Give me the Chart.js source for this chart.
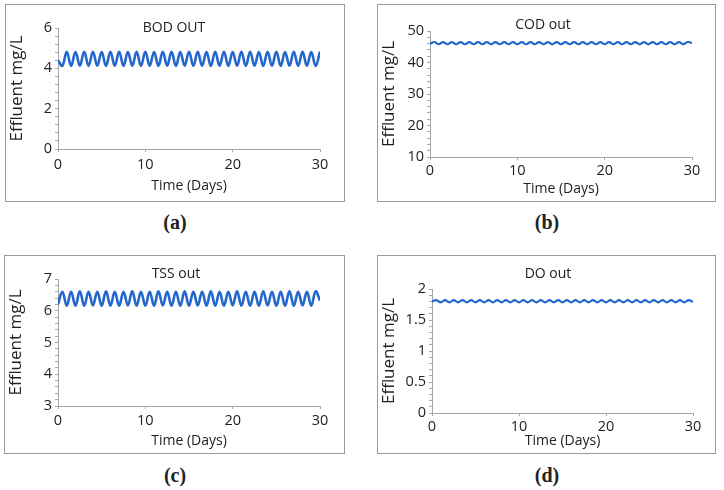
<!DOCTYPE html>
<html>
<head>
<meta charset="utf-8">
<script src="https://cdn.jsdelivr.net/npm/chart.js@4"></script>
<style>
  body { margin: 0; background: #fff; width: 724px; height: 490px; position: relative; overflow: hidden; }
  .panel { position: absolute; border: 1px solid #9a9a9a; box-sizing: border-box; background: #fff; }
  .panel canvas { position: absolute; left: 0; top: 0; }
  .tag { position: absolute; font: bold 20px "Liberation Serif", serif; color: #222; transform: translate(-50%, -50%); }
</style>
</head>
<body>
<div class="panel" style="left:5px;top:4px;width:340px;height:198px"><canvas id="cA"></canvas></div>
<div class="panel" style="left:377px;top:4px;width:339px;height:198px"><canvas id="cB"></canvas></div>
<div class="panel" style="left:4px;top:255px;width:341px;height:199px"><canvas id="cC"></canvas></div>
<div class="panel" style="left:377px;top:255px;width:339px;height:199px"><canvas id="cD"></canvas></div>
<div class="tag" style="left:175px;top:222px">(a)</div>
<div class="tag" style="left:547px;top:222px">(b)</div>
<div class="tag" style="left:175px;top:475px">(c)</div>
<div class="tag" style="left:547px;top:475px">(d)</div>
<script>
// time in days, half-day steps
const days = [0, 0.5, 1, 1.5, 2, 2.5, 3, 3.5, 4, 4.5, 5, 5.5, 6, 6.5, 7, 7.5, 8, 8.5, 9, 9.5,
  10, 10.5, 11, 11.5, 12, 12.5, 13, 13.5, 14, 14.5, 15, 15.5, 16, 16.5, 17, 17.5, 18, 18.5, 19, 19.5,
  20, 20.5, 21, 21.5, 22, 22.5, 23, 23.5, 24, 24.5, 25, 25.5, 26, 26.5, 27, 27.5, 28, 28.5, 29, 29.5, 30];

const bodOut = [4.40, 4.13, 4.82, 4.12, 4.81, 4.13, 4.82, 4.12, 4.82, 4.13, 4.81, 4.12, 4.82, 4.13, 4.82, 4.12,
  4.81, 4.13, 4.82, 4.12, 4.82, 4.13, 4.81, 4.12, 4.82, 4.13, 4.82, 4.12, 4.81, 4.13, 4.82, 4.12,
  4.82, 4.13, 4.81, 4.12, 4.82, 4.13, 4.82, 4.12, 4.81, 4.13, 4.82, 4.12, 4.82, 4.13, 4.81, 4.12,
  4.82, 4.13, 4.82, 4.12, 4.81, 4.13, 4.82, 4.12, 4.82, 4.13, 4.81, 4.12, 4.83];

const codOut = [45.9, 46.5, 45.8, 46.5, 45.8, 46.5, 45.8, 46.5, 45.8, 46.5, 45.8, 46.5, 45.8, 46.5, 45.8, 46.5,
  45.8, 46.5, 45.8, 46.5, 45.8, 46.5, 45.8, 46.5, 45.8, 46.5, 45.8, 46.5, 45.8, 46.5, 45.8, 46.5,
  45.8, 46.5, 45.8, 46.5, 45.8, 46.5, 45.8, 46.5, 45.8, 46.5, 45.8, 46.5, 45.8, 46.5, 45.8, 46.5,
  45.8, 46.5, 45.8, 46.5, 45.8, 46.5, 45.8, 46.5, 45.8, 46.5, 45.8, 46.5, 46.2];

const tssOut = [6.20, 6.60, 6.16, 6.60, 6.16, 6.61, 6.16, 6.60, 6.17, 6.60, 6.16, 6.61, 6.16, 6.60, 6.16, 6.60,
  6.17, 6.61, 6.16, 6.60, 6.16, 6.60, 6.16, 6.61, 6.17, 6.60, 6.16, 6.60, 6.16, 6.61, 6.16, 6.60,
  6.17, 6.60, 6.16, 6.61, 6.16, 6.60, 6.16, 6.60, 6.17, 6.61, 6.16, 6.60, 6.16, 6.60, 6.16, 6.61,
  6.17, 6.60, 6.16, 6.60, 6.16, 6.61, 6.16, 6.60, 6.17, 6.60, 6.16, 6.61, 6.32];

const doOut = [1.80, 1.82, 1.785, 1.82, 1.785, 1.82, 1.785, 1.82, 1.785, 1.82, 1.785, 1.82, 1.785, 1.82, 1.785, 1.82,
  1.785, 1.82, 1.785, 1.82, 1.785, 1.82, 1.785, 1.82, 1.785, 1.82, 1.785, 1.82, 1.785, 1.82, 1.785, 1.82,
  1.785, 1.82, 1.785, 1.82, 1.785, 1.82, 1.785, 1.82, 1.785, 1.82, 1.785, 1.82, 1.785, 1.82, 1.785, 1.82,
  1.785, 1.82, 1.785, 1.82, 1.785, 1.82, 1.785, 1.82, 1.785, 1.82, 1.785, 1.82, 1.79];

const xTicks = [0, 10, 20, 30];

const FONT = '"Open Sans", sans-serif';
const AXIS = '#a8a8a8';
const INK = '#222';

const panelTitle = {
  id: 'panelTitle',
  afterDraw(chart, args, opts) {
    const c = chart.ctx;
    c.save();
    c.font = '14px ' + FONT;
    c.fillStyle = INK;
    c.textAlign = 'center';
    c.textBaseline = 'middle';
    c.fillText(opts.text, opts.x, opts.y);
    c.restore();
  }
};

function makeChart(id, values, o) {
  const el = document.getElementById(id);
  const box = el.parentNode;
  const W = box.clientWidth, H = box.clientHeight;
  el.width = W; el.height = H;
  el.style.width = W + 'px'; el.style.height = H + 'px';

  return new Chart(el, {
    type: 'line',
    data: {
      datasets: [{
        data: days.map((d, i) => ({ x: d, y: values[i] })),
        borderColor: '#2468cc',
        borderWidth: o.lw,
        pointRadius: 0,
        tension: 0.4,
        fill: false
      }]
    },
    options: {
      responsive: false,
      animation: false,
      devicePixelRatio: 1,
      layout: { padding: { top: o.top, right: W - o.right, left: 0, bottom: 0 } },
      plugins: {
        legend: { display: false },
        tooltip: { enabled: false },
        panelTitle: { text: o.title, x: o.tx, y: o.ty }
      },
      scales: {
        x: {
          type: 'linear', min: 0, max: 30,
          afterBuildTicks: s => { s.ticks = xTicks.map(v => ({ value: v })); },
          afterFit: s => { s.height = H - o.bottom; },
          border: { display: true, color: AXIS, width: 1 },
          grid: { display: true, drawOnChartArea: false, drawTicks: true, tickLength: 3, color: AXIS },
          ticks: { color: INK, font: { family: FONT, size: 14.5 }, padding: o.xpad, maxRotation: 0 },
          title: { display: true, text: 'Time (Days)', color: INK, font: { family: FONT, size: 14 }, padding: { top: 0, bottom: o.tpad } }
        },
        y: {
          type: 'linear', min: o.min, max: o.max,
          afterFit: s => { s.width = o.left; },
          border: { display: true, color: AXIS, width: 1 },
          grid: { display: true, drawOnChartArea: false, drawTicks: true, tickLength: 3, color: AXIS },
          ticks: {
            stepSize: o.minor, autoSkip: false, color: INK, padding: 3,
            font: { family: FONT, size: 14.5 },
            callback: v => {
              const r = v / o.major;
              return Math.abs(r - Math.round(r)) < 1e-6 ? String(Math.round(v * 100) / 100) : '';
            }
          },
          title: { display: true, text: 'Effluent mg/L', color: INK, font: { family: FONT, size: 17 }, padding: { top: 1, bottom: 0 } }
        }
      }
    },
    plugins: [panelTitle]
  });
}

makeChart('cA', bodOut, { title: 'BOD OUT', tx: 168, ty: 23, left: 52, right: 314, top: 23, bottom: 144,
  min: 0, max: 6, major: 2, minor: 0.4, lw: 2.6, xpad: 4, tpad: 7 });
makeChart('cB', codOut, { title: 'COD out', tx: 165, ty: 20, left: 52, right: 314, top: 26, bottom: 152,
  min: 10, max: 50, major: 10, minor: 2, lw: 2.2, xpad: 2, tpad: 4 });
makeChart('cC', tssOut, { title: 'TSS out', tx: 171, ty: 18, left: 53, right: 315, top: 23, bottom: 150,
  min: 3, max: 7, major: 1, minor: 0.2, lw: 2.6, xpad: 3, tpad: 4 });
makeChart('cD', doOut, { title: 'DO out', tx: 170, ty: 18, left: 54, right: 315, top: 33, bottom: 157,
  min: 0, max: 2, major: 0.5, minor: 0.1, lw: 2.2, xpad: 2, tpad: 4 });
</script>
</body>
</html>
